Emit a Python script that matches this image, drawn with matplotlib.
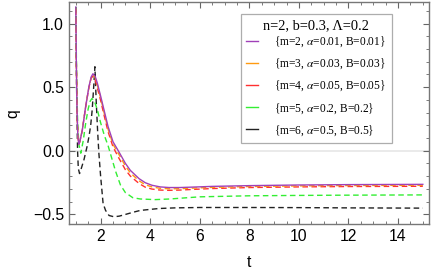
import matplotlib
matplotlib.use("Agg")
import matplotlib.pyplot as plt
from matplotlib.lines import Line2D
from matplotlib.ticker import MultipleLocator

plt.rcParams['font.family'] = ['Liberation Sans', 'DejaVu Sans']
plt.rcParams['mathtext.fontset'] = 'stix'

# ---- data ----
t_m2 = [1.0, 1.02, 1.05, 1.08, 1.12, 1.16, 1.26, 1.4, 1.53, 1.62, 1.69, 1.78, 1.87, 2.0, 2.15, 2.3,
        2.5, 2.74, 3.0, 3.2, 3.55, 3.8, 4.07, 4.4, 4.76, 5.2, 5.8, 6.5, 8.0, 10.0, 12.0, 15.0]
q_m2 = [1.13, 0.7, 0.3, 0.12, 0.05, 0.07, 0.16, 0.35, 0.505, 0.58, 0.605, 0.585, 0.53, 0.43, 0.31, 0.19,
        0.07, -0.01, -0.1, -0.155, -0.22, -0.252, -0.272, -0.285, -0.29, -0.29, -0.286, -0.281, -0.275,
        -0.27, -0.267, -0.265]

t_m3 = [1.0, 1.02, 1.05, 1.08, 1.12, 1.16, 1.26, 1.4, 1.53, 1.62, 1.69, 1.78, 1.87, 2.0, 2.15, 2.3,
        2.5, 2.74, 3.0, 3.2, 3.55, 3.8, 4.07, 4.4, 4.76, 5.2, 5.8, 6.5, 8.0, 10.0, 12.0, 15.0]
q_m3 = [1.12, 0.7, 0.3, 0.12, 0.05, 0.07, 0.16, 0.35, 0.5, 0.575, 0.595, 0.575, 0.515, 0.415, 0.29, 0.17,
        0.05, -0.03, -0.12, -0.175, -0.237, -0.268, -0.285, -0.296, -0.3, -0.299, -0.294, -0.289, -0.282,
        -0.277, -0.274, -0.272]

t_m4 = [1.0, 1.02, 1.05, 1.08, 1.12, 1.16, 1.26, 1.4, 1.53, 1.62, 1.68, 1.77, 1.86, 2.0, 2.15, 2.3,
        2.5, 2.74, 3.0, 3.2, 3.55, 3.8, 4.07, 4.4, 4.76, 5.2, 5.8, 6.5, 8.0, 10.0, 12.0, 15.0]
q_m4 = [1.11, 0.7, 0.3, 0.12, 0.055, 0.07, 0.16, 0.35, 0.5, 0.57, 0.585, 0.565, 0.5, 0.395, 0.27, 0.15,
        0.03, -0.06, -0.15, -0.2, -0.258, -0.287, -0.302, -0.31, -0.312, -0.31, -0.304, -0.298, -0.29,
        -0.285, -0.282, -0.28]

t_m5 = [1.0, 1.03, 1.07, 1.12, 1.2, 1.3, 1.4, 1.5, 1.58, 1.65, 1.75, 1.87, 2.0, 2.15, 2.3, 2.45,
        2.6, 2.8, 3.0, 3.3, 3.6, 4.2, 4.8, 6.0, 8.0, 10.0, 12.0, 15.0]
q_m5 = [1.13, 0.6, 0.25, 0.05, -0.02, 0.08, 0.22, 0.33, 0.39, 0.41, 0.39, 0.32, 0.22, 0.12, 0.04, -0.06,
        -0.16, -0.27, -0.33, -0.37, -0.38, -0.385, -0.38, -0.363, -0.355, -0.352, -0.35, -0.348]

t_m6 = [1.0, 1.03, 1.07, 1.1, 1.15, 1.22, 1.33, 1.45, 1.53, 1.6, 1.66, 1.72, 1.77, 1.82, 1.88, 1.93,
        2.0, 2.1, 2.2, 2.34, 2.54, 2.75, 2.94, 3.3, 3.6, 4.35, 5.0, 6.0, 8.0, 10.0, 12.0, 15.0]
q_m6 = [1.13, 0.5, 0.0, -0.14, -0.18, -0.14, -0.07, 0.03, 0.11, 0.2, 0.32, 0.5, 0.66, 0.4, 0.15, -0.02,
        -0.2, -0.415, -0.47, -0.51, -0.52, -0.515, -0.505, -0.485, -0.47, -0.455, -0.45, -0.447, -0.447,
        -0.448, -0.45, -0.452]

labels = [r"{m=2, $\alpha$=0.01, B=0.01}",
          r"{m=3, $\alpha$=0.03, B=0.03}",
          r"{m=4, $\alpha$=0.05, B=0.05}",
          r"{m=5, $\alpha$=0.2, B=0.2}",
          r"{m=6, $\alpha$=0.5, B=0.5}"]
legend_title = "n=2, b=0.3, \u039b=0.2"
x_label = "t"
y_label = "q"
x_ticks = [2, 4, 6, 8, 10, 12, 14]
y_ticks = [-0.5, 0.0, 0.5, 1.0]

colors = ['#a040b8', '#ff9a10', '#ff3030', '#33ee33', '#222222']
styles = ['-', '--', '--', '--', '--']

fig = plt.figure(figsize=(4.36, 2.73), dpi=100)
ax = fig.add_axes([0.158, 0.178, 0.826, 0.815])

ax.axhline(0.0, color='#e6e6e6', lw=1.2, zorder=0)

series = [(t_m6, q_m6), (t_m5, q_m5), (t_m4, q_m4), (t_m3, q_m3), (t_m2, q_m2)]
order = [4, 3, 2, 1, 0]
for (tt, qq), i in zip(series, order):
    if styles[i] == '-':
        ax.plot(tt, qq, color=colors[i], lw=1.0, ls='-')
    else:
        ax.plot(tt, qq, color=colors[i], lw=1.0, ls=(0, (4, 2.5)))

ax.set_xlim(0.72, 15.25)
ax.set_ylim(-0.58, 1.17)
ax.set_xticks(x_ticks)
ax.set_yticks(y_ticks)
ax.set_yticklabels(['\u22120.5', '0.0', '0.5', '1.0'])
ax.xaxis.set_minor_locator(MultipleLocator(0.5))
ax.yaxis.set_minor_locator(MultipleLocator(0.1))
ax.tick_params(which='both', direction='in', top=True, right=True, colors='#666666',
               labelcolor='black', labelsize=11.3)
ax.tick_params(which='major', length=4, width=0.8)
ax.tick_params(which='minor', length=2, width=0.6)
for s in ax.spines.values():
    s.set_color('#777777')
    s.set_linewidth(1.0)

ax.set_xlabel(x_label, fontsize=11.3, labelpad=8)
ax.set_ylabel(y_label, fontsize=11.3, labelpad=9)

handles = [Line2D([0], [0], color=c, lw=1.0) for c in colors]
leg = ax.legend(handles, labels, title=legend_title, loc='upper left',
                bbox_to_anchor=(0.478, 0.947), frameon=True, fancybox=False,
                handlelength=1.0, handletextpad=1.45, labelspacing=0.66,
                borderpad=0.45, borderaxespad=0,
                prop={'family': 'Liberation Serif', 'size': 8.3})
leg.get_title().set_fontfamily('Liberation Serif')
leg.get_title().set_fontsize(10.4)
leg.get_frame().set_edgecolor('#999999')
leg.get_frame().set_linewidth(0.9)
try:
    leg._legend_box.sep = 2.0
except Exception:
    pass

fig.savefig('out.png', dpi=100)
